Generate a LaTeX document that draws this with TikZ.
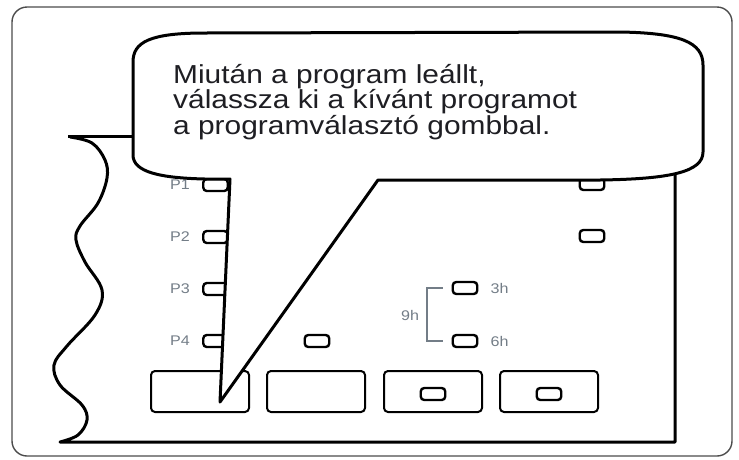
\documentclass[tikz,border=0pt]{standalone}
\usepackage{fontspec}
\setmainfont{Liberation Sans}
\newfontfamily\bubblefont[FakeStretch=1.15]{Liberation Sans}
\usepackage{tikz}
\usetikzlibrary{positioning}
\definecolor{lblgray}{RGB}{115,125,135}
\definecolor{msgink}{RGB}{30,30,35}
\tikzset{
  led/.style={draw, line width=2.4pt, rounded corners=3.5pt, minimum width=24.5pt, minimum height=12pt, inner sep=0pt},
  taste/.style={draw, line width=2pt, rounded corners=4pt, minimum width=98pt, minimum height=41pt, inner sep=0pt},
  lbl/.style={text=lblgray, font=\bubblefont\fontsize{14}{14}\selectfont, inner sep=0pt},
  msg/.style={text=msgink, font=\bubblefont\fontsize{26}{25}\selectfont, inner sep=0pt, anchor=base west}
}

\begin{document}
\begin{tikzpicture}[x=1pt,y=-1pt]
                      \useasboundingbox (0,0) rectangle (739,459);
                      \draw[black!70, line width=1.4pt, rounded corners=15pt] (12,7) rectangle (732,456);
                      % panel
                      \draw[line width=3pt] (68,136) -- (140,136);
                      \draw[line width=3pt, line join=round] (70,137) -- plot[smooth, tension=0.6] coordinates {(70,137) (92,143) (105,160) (107,178) (98,203) (80,226) (76,240) (85,262) (102,290) (95,315) (67,346) (54,365) (60,385) (82,405) (87,420) (78,435) (60,442)} -- (675,442) -- (675,175);
                      \foreach \n/\y in {1/185, 2/237, 3/289, 4/341}{
                          \node[led] (p\n) at (215.5,\y) {};
                          \node[lbl, left=12pt of p\n] (lp\n) {P\n};
                      }
                      \node[led] (mid) at (317,341) {};
                      \node[led] (r1) at (592,184) {};
                      \node[led] (r2) at (592,236) {};
                      \node[led] (t3) at (465,288) {};
                      \node[led] (t6) at (465,341) {};
                      \node[lbl, right=12pt of t3] (l3h) {3h};
                      \node[lbl, right=12pt of t6] (l6h) {6h};
                      \node[lbl] (l9h) at (410,315) {9h};
                      \draw[lblgray, line width=1.2pt] ([xshift=-9pt]t3.west) -| (427,315) |- ([xshift=-9pt]t6.west);
                      \node[taste] (b1) at (200,391.5) {};
                      \node[taste] (b2) at (316,391.5) {};
                      \node[taste] (b3) at (433,391.5) {};
                      \node[taste] (b4) at (549,391.5) {};
                      \node[led] (b3led) at (433,394) {};
                      \node[led] (b4led) at (549,394) {};
                      % bubble
                      \draw[line width=3pt, fill=white, line join=round] (230,179) -- (220,402) -- (378,180) -- (600,180) .. controls (670,179) and (703,172) .. (703,152) -- (703,65) .. controls (703,42) and (680,33) .. (620,32) -- (205,33) .. controls (150,33) and (133,42) .. (133,62) -- (133,155) .. controls (133,172) and (160,178) .. (205,179) -- cycle;
                      \node[msg] (msga) at (173,83) {Miután a program leállt,};
                      \node[msg] (msgb) at (173,108.5) {válassza ki a kívánt programot};
                      \node[msg] (msgc) at (173,134) {a programválasztó gombbal.};
                  \end{tikzpicture}
\end{document}
